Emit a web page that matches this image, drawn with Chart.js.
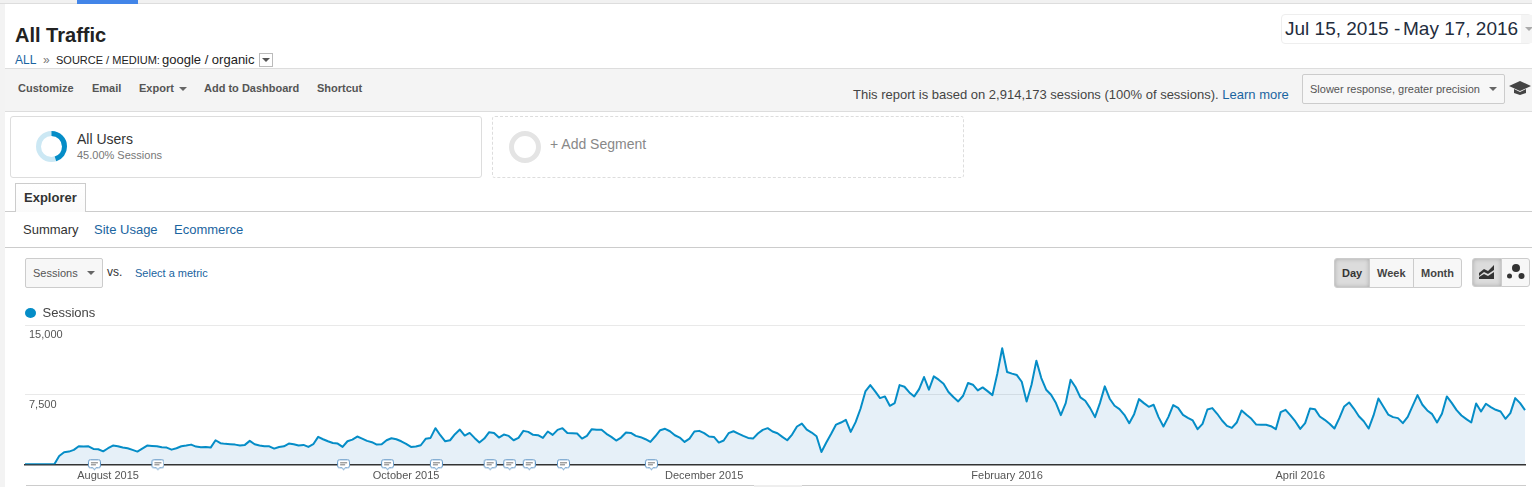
<!DOCTYPE html>
<html>
<head>
<meta charset="utf-8">
<title>All Traffic</title>
<script src="https://cdn.jsdelivr.net/npm/chart.js@4"></script>
<style>
  html, body { margin: 0; padding: 0; background: #fff; overflow: hidden; }
  body { width: 1532px; height: 487px; position: relative; font-family: Arial, "Liberation Sans", sans-serif; color: #333; }
  .t { position: absolute; white-space: nowrap; line-height: 1; }
  .b { position: absolute; box-sizing: border-box; }
  .link { color: #1a64a0; }
  .tool { font-weight: bold; font-size: 11px; color: #555; top: 83px; }
  .arrow { position: absolute; width: 0; height: 0; border-left: 4px solid transparent; border-right: 4px solid transparent; border-top: 4px solid #666; }
  .btn { position: absolute; box-sizing: border-box; background: #f7f7f7; border: 1px solid #ccc; }
  .on { background: #dcdcdc; box-shadow: inset 0 0 4px #aaa; }
  #chart { position: absolute; left: 0; top: 300px; }
</style>
</head>
<body>
<!-- top strip -->
<div class="b" style="left:0;top:0;width:1532px;height:4px;background:#f1f1f1;border-bottom:1px solid #ddd"></div>
<div class="b" style="left:77px;top:0;width:61px;height:4px;background:#4285e8"></div>
<div class="b" style="left:0;top:4px;width:5px;height:483px;background:#f3f3f3"></div>

<div class="t" style="left:15px;top:25px;font-size:20px;font-weight:bold;color:#222">All Traffic</div>
<div class="t link" style="left:15px;top:54px;font-size:12px">ALL</div>
<div class="t" style="left:43px;top:54px;font-size:12px;color:#777">»</div>
<div class="t" style="left:56px;top:55px;font-size:11px;color:#222">SOURCE / MEDIUM:</div>
<div class="t" style="left:162px;top:53px;font-size:13px;color:#222">google / organic</div>
<div class="b" style="left:259px;top:53px;width:14px;height:14px;border:1px solid #bbb"></div>
<div class="arrow" style="left:262px;top:58px;border-top-color:#555"></div>

<!-- date range -->
<div class="b" style="left:1281px;top:14px;width:251px;height:30px;border:1px solid #eee;border-radius:4px;background:#fff"></div>
<div class="b" style="left:1521px;top:15px;width:11px;height:28px;background:#f5f5f5"></div>
<div class="arrow" style="left:1525px;top:27px;border-top-color:#aaa"></div>
<div class="t" style="left:1285px;top:19px;font-size:19px;color:#1f2d3d">Jul 15, 2015</div>
<div class="t" style="left:1394px;top:19px;font-size:19px;color:#1f2d3d">-</div>
<div class="t" style="left:1403px;top:19px;font-size:19px;color:#1f2d3d">May 17, 2016</div>

<!-- toolbar -->
<div class="b" style="left:5px;top:68px;width:1527px;height:44px;background:#f4f4f4;border-top:1px solid #ddd;border-bottom:1px solid #ddd"></div>
<div class="t tool" style="left:18px">Customize</div>
<div class="t tool" style="left:92px">Email</div>
<div class="t tool" style="left:139px">Export</div>
<div class="arrow" style="left:179px;top:87px"></div>
<div class="t tool" style="left:204px">Add to Dashboard</div>
<div class="t tool" style="left:317px">Shortcut</div>
<div class="t" style="left:853px;top:88px;font-size:13px;color:#444">This report is based on 2,914,173 sessions (100% of sessions). <span class="link">Learn more</span></div>
<div class="btn" style="left:1302px;top:74px;width:203px;height:30px;border-radius:2px"></div>
<div class="t" style="left:1310px;top:84px;font-size:11px;color:#555">Slower response, greater precision</div>
<div class="arrow" style="left:1489px;top:87px"></div>
<svg style="position:absolute;left:1509px;top:80px" width="22" height="16" viewBox="0 0 22 16"><path d="M0 6 L11 1 L22 6 L11 11 Z M5 9 L11 12 L17 9 L17 13 L11 15 L5 13 Z" fill="#444"/></svg>

<!-- segments -->
<div class="b" style="left:10px;top:116px;width:472px;height:62px;border:1px solid #ddd;border-radius:3px"></div>
<svg style="position:absolute;left:36px;top:131px" width="31" height="31" viewBox="0 0 31 31">
  <circle cx="15.5" cy="15.5" r="13" fill="none" stroke="#cce8f4" stroke-width="5"/>
  <circle cx="15.5" cy="15.5" r="13" fill="none" stroke="#058dc7" stroke-width="5" pathLength="100" stroke-dasharray="45 55" transform="rotate(-90 15.5 15.5)"/>
</svg>
<div class="t" style="left:77px;top:132px;font-size:14px;color:#333">All Users</div>
<div class="t" style="left:77px;top:150px;font-size:11px;color:#777">45.00% Sessions</div>
<div class="b" style="left:492px;top:116px;width:472px;height:62px;border:1px dashed #ddd;border-radius:3px"></div>
<svg style="position:absolute;left:509px;top:131px" width="32" height="32" viewBox="0 0 32 32"><circle cx="16" cy="16" r="13.5" fill="none" stroke="#e4e4e4" stroke-width="5"/></svg>
<div class="t" style="left:550px;top:137px;font-size:14px;color:#888">+ Add Segment</div>

<!-- tabs -->
<div class="b" style="left:5px;top:211px;width:1527px;height:1px;background:#ccc"></div>
<div class="b" style="left:15px;top:183px;width:71px;height:29px;border:1px solid #ccc;border-bottom:none;background:linear-gradient(#fff,#fafafa)"></div>
<div class="t" style="left:24px;top:191px;font-size:13px;font-weight:bold;color:#333">Explorer</div>
<div class="t" style="left:23px;top:223px;font-size:13px;color:#333">Summary</div>
<div class="t link" style="left:94px;top:223px;font-size:13px">Site Usage</div>
<div class="t link" style="left:174px;top:223px;font-size:13px">Ecommerce</div>
<div class="b" style="left:5px;top:247px;width:1527px;height:1px;background:#ccc"></div>

<!-- metric picker -->
<div class="btn" style="left:25px;top:258px;width:78px;height:30px;border-radius:2px"></div>
<div class="t" style="left:33px;top:268px;font-size:11px;color:#555">Sessions</div>
<div class="arrow" style="left:87px;top:271px"></div>
<div class="t" style="left:107px;top:266px;font-size:12px;color:#333">vs.</div>
<div class="t link" style="left:135px;top:268px;font-size:11px">Select a metric</div>

<!-- granularity -->
<div class="btn on" style="left:1334px;top:258px;width:36px;height:30px;border-radius:3px 0 0 3px"></div>
<div class="btn" style="left:1369px;top:258px;width:45px;height:30px"></div>
<div class="btn" style="left:1413px;top:258px;width:49px;height:30px;border-radius:0 3px 3px 0"></div>
<div class="t" style="left:1342px;top:268px;font-size:11px;font-weight:bold;color:#333">Day</div>
<div class="t" style="left:1377px;top:268px;font-size:11px;font-weight:bold;color:#444">Week</div>
<div class="t" style="left:1421px;top:268px;font-size:11px;font-weight:bold;color:#444">Month</div>
<div class="btn on" style="left:1472px;top:258px;width:30px;height:29px;border-radius:3px 0 0 3px"></div>
<div class="btn" style="left:1501px;top:258px;width:29px;height:29px;border-radius:0 3px 3px 0"></div>
<svg style="position:absolute;left:1478px;top:264px" width="18" height="16" viewBox="0 0 18 16"><path d="M1 9 L6 5 L10 7 L16 1 L16 6 L10 10 L6 8 L1 12 Z M1 15 L1 13 L6 10 L10 12 L16 8 L16 15 Z" fill="#333"/></svg>
<svg style="position:absolute;left:1506px;top:263px" width="20" height="18" viewBox="0 0 20 18"><circle cx="10" cy="5" r="4" fill="#333"/><circle cx="3.5" cy="13" r="2.5" fill="#333"/><circle cx="15.5" cy="13" r="3" fill="#333"/></svg>

<!-- chart bottom rule -->
<div class="b" style="left:26px;top:485px;width:1500px;height:1px;background:#ccc"></div>
<div class="b" style="left:754px;top:485px;width:48px;height:2px;background:#eee"></div>

<canvas id="chart" width="1532" height="187"></canvas>

<script>
const startDate = "2015-07-15";
const dayCount = 308;

// Sessions per day
const sessions = [
  0, 0, 0, 0, 0, 0, 0, 900, 1300, 1370, 1550, 1940, 1910, 1940, 1660, 1620, 1400, 1730, 2020, 1940,
  1800, 1730, 1550, 1370, 1690, 2020, 1980, 1940, 1840, 1800, 1580, 1730, 1940, 2020, 2120, 1910, 1840, 1870, 1800, 2590,
  2270, 2200, 2160, 2120, 2020, 2090, 2520, 2160, 2020, 1940, 1940, 1690, 1870, 1940, 2230, 2160, 2020, 2090, 1870, 2160,
  2950, 2700, 2480, 2300, 2230, 1870, 2480, 2660, 2990, 2770, 2520, 2380, 2120, 2160, 2590, 2810, 2700, 2480, 2200, 1870,
  1910, 2050, 2740, 2840, 3890, 3130, 2480, 2590, 3240, 3740, 3100, 3380, 2840, 2340, 2770, 3460, 3380, 2880, 3200, 3060,
  2590, 2840, 3600, 3490, 3170, 3130, 2840, 3530, 3170, 3710, 3890, 3380, 3350, 3310, 2770, 3060, 3780, 3710, 3710, 3280,
  2950, 2560, 2880, 3420, 3380, 3060, 2920, 2700, 2410, 3020, 3670, 3820, 3560, 3130, 2880, 2410, 2770, 3530, 3600, 3350,
  2990, 2950, 2340, 2560, 3350, 3560, 3310, 3060, 2840, 2770, 3310, 3710, 3890, 3530, 3350, 2950, 2590, 3200, 4070, 4390,
  3740, 3420, 3020, 1330, 2340, 3280, 4280, 4500, 4790, 3490, 4540, 5980, 7850, 8530, 7850, 7130, 7310, 6300, 6590, 8530,
  8350, 7740, 7310, 8100, 9400, 8030, 9470, 9110, 8680, 7780, 7240, 6770, 7380, 8750, 8570, 7960, 8280, 7880, 7450, 9760,
  12490, 9940, 9760, 9610, 8890, 6770, 8570, 11160, 9290, 8030, 7490, 6590, 5290, 6590, 9110, 8320, 7200, 6840, 6050, 5080,
  6590, 8390, 7060, 6300, 5940, 5330, 4430, 5400, 7020, 6590, 6190, 6410, 5080, 4070, 5080, 6370, 6080, 5330, 5000, 4720,
  3780, 4360, 5900, 6050, 5440, 4720, 4140, 3920, 4500, 5800, 5330, 4900, 4280, 4250, 4250, 4100, 3780, 5620, 5870, 5260,
  4610, 3820, 4430, 6010, 5940, 5150, 4790, 4360, 3850, 4970, 6230, 6660, 5980, 5180, 4640, 3850, 5260, 7090, 6230, 5360,
  5080, 4970, 4430, 5110, 6300, 7450, 6410, 5800, 5400, 4500, 5440, 7310, 6620, 5830, 5260, 4860, 4500, 6550, 5690, 6520,
  6160, 5870, 5690, 4900, 5510, 7130, 6590, 5830
];

const tickDates = ["2015-08-01", "2015-10-01", "2015-12-01", "2016-02-01", "2016-04-01"];
const tickLabels = ["August 2015", "October 2015", "December 2015", "February 2016", "April 2016"];
const yTicks = [7500, 15000];
const annotationDates = ["2015-07-29", "2015-08-11", "2015-09-18", "2015-09-27", "2015-10-07",
  "2015-10-18", "2015-10-22", "2015-10-26", "2015-11-02", "2015-11-20"];

const days = [];
for (let i = 0; i < dayCount; i++) {
  const d = new Date(Date.parse(startDate + "T00:00:00Z") + i * 86400000);
  days.push(d.toISOString().slice(0, 10));
}

// the little comment bubble sitting on the axis
function annotationIcon() {
  const c = document.createElement("canvas");
  c.width = 15;
  c.height = 14;
  const ctx = c.getContext("2d");
  ctx.translate(2, 2);
  ctx.fillStyle = "#fff";
  ctx.strokeStyle = "#5b92c4";
  ctx.lineWidth = 1;
  ctx.beginPath();
  ctx.moveTo(2.5, 0.5);
  ctx.lineTo(10.5, 0.5);
  ctx.quadraticCurveTo(12.5, 0.5, 12.5, 2.5);
  ctx.lineTo(12.5, 6.5);
  ctx.quadraticCurveTo(12.5, 8.5, 10.5, 8.5);
  ctx.lineTo(8, 8.5);
  ctx.lineTo(6.5, 10.5);
  ctx.lineTo(5, 8.5);
  ctx.lineTo(2.5, 8.5);
  ctx.quadraticCurveTo(0.5, 8.5, 0.5, 6.5);
  ctx.lineTo(0.5, 2.5);
  ctx.quadraticCurveTo(0.5, 0.5, 2.5, 0.5);
  ctx.closePath();
  ctx.fill();
  ctx.stroke();
  ctx.fillStyle = "#777";
  ctx.fillRect(3, 3, 7, 1);
  ctx.fillRect(3, 5, 5, 1);
  return c;
}

new Chart(document.getElementById("chart"), {
  type: "line",
  data: {
    labels: days,
    datasets: [
      {
        label: "Sessions",
        data: sessions,
        borderColor: "#058dc7",
        backgroundColor: "rgba(10, 110, 185, 0.1)",
        borderWidth: 2,
        borderJoinStyle: "round",
        fill: "origin",
        pointRadius: 0,
        tension: 0,
        order: 1,
      },
      {
        label: "Annotations",
        data: annotationDates.map((d) => ({ x: d, y: 0 })),
        showLine: false,
        pointStyle: annotationIcon(),
        pointRadius: 6,
        clip: false,
        order: 0,
      },
    ],
  },
  options: {
    responsive: false,
    animation: false,
    layout: { padding: { left: 22, right: 6.5, top: 3.5, bottom: 0 } },
    plugins: {
      tooltip: { enabled: false },
      legend: {
        position: "top",
        align: "start",
        maxHeight: 21.5,
        labels: {
          padding: 3,
          boxWidth: 11,
          boxHeight: 7,
          usePointStyle: true,
          pointStyleWidth: 11,
          color: "#444",
          font: { family: "Arial, 'Liberation Sans', sans-serif", size: 13 },
          generateLabels: (chart) =>
            Chart.defaults.plugins.legend.labels.generateLabels(chart)
              .filter((item) => item.text === "Sessions")
              .map((item) => ({ ...item, fillStyle: "#058dc7", strokeStyle: "#058dc7", pointStyle: "circle", lineWidth: 0 })),
        },
      },
    },
    scales: {
      x: {
        type: "category",
        offset: false,
        afterFit: (s) => { s.height = 22.7; s.paddingLeft = 0; s.paddingRight = 0; },
        grid: { display: false, drawTicks: false },
        border: { color: "#333", width: 1.5 },
        ticks: {
          autoSkip: false,
          maxRotation: 0,
          padding: 5,
          color: "#555",
          font: { family: "Arial, 'Liberation Sans', sans-serif", size: 11 },
          callback: function (value) {
            const i = tickDates.indexOf(this.getLabelForValue(value));
            return i < 0 ? "" : tickLabels[i];
          },
        },
      },
      y: {
        min: 0,
        max: 15000,
        afterFit: (s) => { s.width = 3; s.paddingTop = 0; s.paddingBottom = 0; },
        afterBuildTicks: (s) => { s.ticks = [0, ...yTicks].map((v) => ({ value: v })); },
        grid: { color: "#e9e9e9", drawTicks: false },
        border: { display: false },
        ticks: {
          mirror: true,
          padding: 4,
          labelOffset: 10,
          color: "#555",
          font: { family: "Arial, 'Liberation Sans', sans-serif", size: 11 },
          callback: (v) => (v === 0 ? "" : v.toLocaleString("en-US")),
        },
      },
    },
  },
});
</script>
</body>
</html>
